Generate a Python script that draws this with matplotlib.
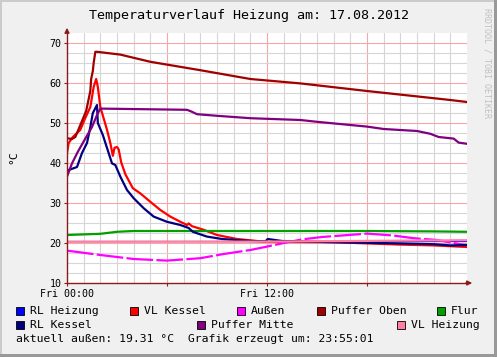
#!/usr/bin/env python3

import numpy as np
import matplotlib
matplotlib.use('Agg')
import matplotlib.pyplot as plt
from matplotlib.patches import Rectangle

plt.rcParams['font.family'] = ['DejaVu Sans Mono']

# Hours since Fri 00:00 and temperatures (°C).
puffer_oben_t = [0, 0.3, 0.5, 0.65, 0.8, 0.95, 1.15, 1.25, 1.4, 1.45, 1.55, 1.6, 1.7, 1.8,
                 3.2, 5, 8, 11, 14, 18, 23, 24]
puffer_oben = [46.2, 46.0, 46.5, 48.0, 49.5, 51.0, 53.0, 55.0, 58.0, 61.0, 63.0, 65.0, 67.8, 67.8,
               67.1, 65.3, 63.2, 61.0, 59.9, 58.0, 55.75, 55.25]

puffer_mitte_t = [0, 0.3, 0.65, 1.05, 1.5, 1.8, 2.0, 7.2, 7.5, 7.8, 9, 11, 14, 15, 17, 18, 19,
                  21, 21.8, 22.3, 23.2, 23.5, 24]
puffer_mitte = [36.6, 39.9, 42.8, 45.75, 49.0, 52.0, 53.6, 53.3, 52.8, 52.2, 51.8, 51.2, 50.75,
                50.3, 49.5, 49.1, 48.5, 48.0, 47.3, 46.5, 46.1, 45.1, 44.8]

vl_kessel_t = [0, 0.1, 0.35, 0.8, 1.05, 1.4, 1.6, 1.75, 1.85, 2.0, 2.4, 2.6, 2.75, 2.85, 3.0,
               3.1, 3.25, 3.5, 3.95, 4.4, 5.0, 5.6, 6.2, 6.8, 7.2, 7.3, 7.5, 8.2, 9.0, 10.2,
               11.4, 12, 16, 20, 22, 24]
vl_kessel = [42.5, 45.0, 46.5, 48.3, 50.8, 54.0, 59.0, 61.0, 59.0, 54.0, 48.3, 45.0, 41.8, 43.8,
             44.0, 43.4, 40.2, 37.2, 33.7, 32.4, 30.3, 28.25, 26.6, 25.3, 24.5, 24.9, 24.2,
             23.3, 22.0, 21.0, 20.5, 20.3, 20.2, 19.6, 19.4, 19.0]

rl_kessel_t = [0, 0.6, 0.9, 1.2, 1.4, 1.55, 1.8, 1.85, 2.15, 2.7, 2.9, 3.2, 3.6, 4.0, 4.6, 5.2,
               6.0, 6.8, 7.3, 7.55, 8.4, 9.3, 11, 11.9, 12.05, 12.9, 16, 20, 22, 23, 24]
rl_kessel = [38.1, 39.0, 42.5, 45.0, 49.0, 52.5, 54.5, 50.0, 47.0, 39.9, 39.5, 36.6, 33.25,
             31.2, 28.7, 26.6, 25.3, 24.5, 23.75, 22.8, 21.6, 21.0, 20.5, 20.4, 21.0, 20.5,
             20.2, 19.9, 19.7, 19.4, 19.5]

flur_t = [0, 2, 3, 4, 6, 12, 18, 22, 24]
flur = [22.0, 22.3, 22.8, 23.0, 23.0, 23.0, 23.0, 22.9, 22.8]

aussen_t = [0, 2, 4, 6, 8, 9.4, 11, 12, 12.9, 14.1, 15.3, 16.9, 18, 19.5, 20.8, 22.2, 24]
aussen = [18.1, 17.0, 16.0, 15.6, 16.2, 17.25, 18.25, 19.1, 19.9, 20.9, 21.5, 22.0, 22.35,
          21.9, 21.2, 20.75, 19.4]

rl_heizung_t = [0, 12, 24]
rl_heizung = [20.6, 20.6, 20.6]

vl_heizung_t = [0, 12, 24]
vl_heizung = [20.3, 20.35, 20.7]

labels = ['RL Heizung', 'VL Kessel', 'Außen', 'Puffer Oben', 'Flur',
          'RL Kessel', 'Puffer Mitte', 'VL Heizung']
colors = ['#0000ff', '#ff0000', '#ff00ff', '#a00000', '#00a000',
          '#000080', '#800080', '#ff80a0']
widths = [0.9, 1.6, 1.6, 1.6, 1.6, 1.6, 1.6, 1.6]

W, H = 497, 357
fx = lambda x: x / W
fy = lambda y: 1 - y / H

fig = plt.figure(figsize=(W / 100, H / 100), dpi=100, facecolor='#f0f0f0')

# border shading
fig.patches.append(Rectangle((0, fy(2)), 1, 2 / H, transform=fig.transFigure,
                             color='#cbcbcb', lw=0))
fig.patches.append(Rectangle((0, 0), 2 / W, 1, transform=fig.transFigure,
                             color='#cbcbcb', lw=0))
fig.patches.append(Rectangle((1 - 3 / W, 0), 3 / W, 1, transform=fig.transFigure,
                             color='#999999', lw=0))
fig.patches.append(Rectangle((0, 0), 1, 3 / H, transform=fig.transFigure,
                             color='#999999', lw=0))

ax = fig.add_axes([fx(67), fy(283), 400 / W, 250 / H])
ax.set_xlim(0, 24)
ax.set_ylim(10, 72.5)

for h in np.arange(1, 24, 1):
    ax.axvline(h, color='#f4a8a8' if h % 6 == 0 else '#d6d6d6', lw=0.8, zorder=0)
for v in np.arange(12.5, 72.5, 2.5):
    ax.axhline(v, color='#f4a8a8' if v % 10 == 0 else '#d6d6d6', lw=0.8, zorder=0)

series = [
    (rl_heizung_t, rl_heizung),
    (vl_kessel_t, vl_kessel),
    (aussen_t, aussen),
    (puffer_oben_t, puffer_oben),
    (flur_t, flur),
    (rl_kessel_t, rl_kessel),
    (puffer_mitte_t, puffer_mitte),
    (vl_heizung_t, vl_heizung),
]
for (t, v), c, lab, lw in zip(series, colors, labels, widths):
    kw = {}
    if lab == 'Außen':
        kw['dashes'] = (12, 1.5)
    ax.plot(t, v, color=c, lw=lw, solid_joinstyle='round', **kw)

axis_col = '#8b1a1a'
for s in ['top', 'right']:
    ax.spines[s].set_visible(False)
for s in ['left', 'bottom']:
    ax.spines[s].set_color(axis_col)
    ax.spines[s].set_linewidth(1)

ax.set_xticks([0, 6, 12, 18])
ax.set_xticklabels(['Fri 00:00', '', 'Fri 12:00', ''])
ax.set_yticks([10, 20, 30, 40, 50, 60, 70])
ax.tick_params(length=2, width=0.8, color=axis_col, labelsize=7.2, pad=2)

ax.annotate('', xy=(0, 1 + 8 / 250), xytext=(0, 0.99), xycoords='axes fraction',
            arrowprops=dict(arrowstyle='-|>', color=axis_col, lw=1, mutation_scale=7))
ax.annotate('', xy=(1 + 8 / 400, 0), xytext=(0.99, 0), xycoords='axes fraction',
            arrowprops=dict(arrowstyle='-|>', color=axis_col, lw=1, mutation_scale=7))

fig.text(fx(249), fy(16), 'Temperaturverlauf Heizung am: 17.08.2012',
         ha='center', va='center', fontsize=9.6)
fig.text(fx(13), fy(157), '°C', rotation=90, ha='center', va='center', fontsize=8.2)
fig.text(fx(487), fy(8), 'RRDTOOL / TOBI OETIKER', rotation=270, ha='center', va='top',
         fontsize=6, color='#c0c0c0')

# legend, drawn by hand like rrdtool does
legend_pos = [
    (16, 311, 0), (130, 311, 1), (237, 311, 2), (317, 311, 3), (437, 311, 4),
    (16, 325, 5), (197, 325, 6), (397, 325, 7),
]
for x, y, i in legend_pos:
    fig.patches.append(Rectangle((fx(x), fy(y + 4)), 8 / W, 8 / H, transform=fig.transFigure,
                                 facecolor=colors[i], edgecolor='black', lw=0.6))
    fig.text(fx(x + 14), fy(y), labels[i], ha='left', va='center', fontsize=8.2)

fig.text(fx(16), fy(339), 'aktuell außen: 19.31 °C  Grafik erzeugt um: 23:55:01',
         ha='left', va='center', fontsize=8.2)

fig.savefig('out.png', dpi=100, facecolor=fig.get_facecolor())
